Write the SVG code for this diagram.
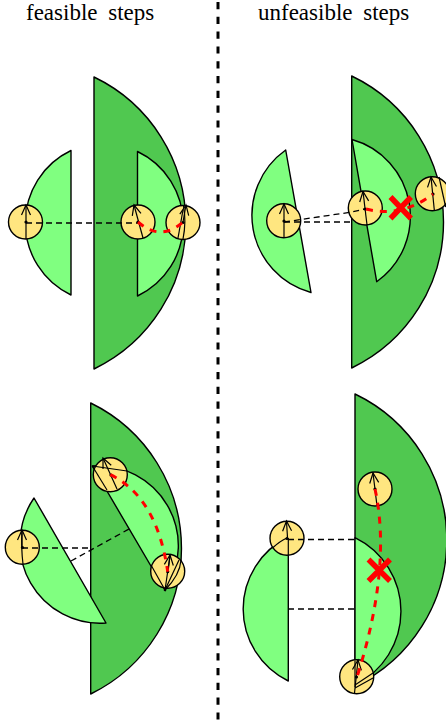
<svg xmlns="http://www.w3.org/2000/svg" width="446" height="726" viewBox="0 0 446 726">
<style>
text{font-family:"Liberation Serif","Times New Roman",serif;font-size:23px;word-spacing:5px;fill:#000}
.big{fill:#50c850;stroke:#000;stroke-width:1.4;stroke-linejoin:round}
.mid{fill:#80ff80;stroke:#000;stroke-width:1.4;stroke-linejoin:round}
.c{fill:#ffe680;stroke:#000;stroke-width:1.4}
.l{fill:none;stroke:#000;stroke-width:1.2}
.a{fill:none;stroke:#000;stroke-width:1.2;marker-end:url(#v)}
.d{fill:#000;stroke:none}
.k{fill:none;stroke:#000;stroke-width:1.3;stroke-dasharray:6 4}
.r{fill:none;stroke:#f00;stroke-width:3;stroke-dasharray:7 7}
.x{fill:none;stroke:#f00;stroke-width:5.500}
</style>
<defs>
<marker id="v" markerUnits="userSpaceOnUse" markerWidth="14" markerHeight="14" refX="11" refY="7" orient="auto">
<path d="M1 2.500L11 7L1 11.500" fill="none" stroke="#000" stroke-width="1.200"/>
</marker>
</defs>
<text x="26" y="20">feasible steps</text>
<text x="258" y="20">unfeasible steps</text>
<path id="divider" d="M218 2V720" fill="none" stroke="#000" stroke-width="3" stroke-dasharray="7.200 7.600"/>

<g id="p1-shapes">
<path class="big" d="M94 77A162 162 0 0 1 94 369Z"/>
<path class="mid" d="M71 150.500A80 80 0 0 0 71 295Z"/>
<path class="mid" d="M137.500 151.500A80 80 0 0 1 137.500 296Z"/>
</g>
<g id="p2-shapes">
<path class="big" d="M351.700 76A162 162 0 0 1 351.700 368Z"/>
<path class="mid" d="M352 139.500A80 80 0 0 1 376.700 281.700Z"/>
<path class="mid" d="M285.700 150A80 80 0 0 0 311 292.500Z"/>
</g>
<g id="p3-shapes">
<path class="big" d="M90.700 403A162 162 0 0 1 90.700 694Z"/>
<path class="mid" d="M34 498A80 80 0 0 0 106 623Z"/>
<path class="mid" d="M92.300 466A80 80 0 0 1 165 590Z"/>
</g>
<g id="p4-shapes">
<path class="big" d="M355 394A162 162 0 0 1 355 686Z"/>
<path class="mid" d="M355 537.700A82 82 0 0 1 355 685Z"/>
<path class="mid" d="M288.300 537A80 80 0 0 0 288.300 681Z"/>
</g>

<g id="p1-robots">
<g id="p1-a"><circle class="c" cx="25.500" cy="222" r="17"/><path class="l" d="M26 239V222"/><path class="a" d="M26 222V205"/><circle class="d" cx="26" cy="222" r="1.600"/></g>
<g id="p1-b"><circle class="c" cx="138" cy="222" r="17"/><path class="a" d="M143 238L134 205"/><circle class="d" cx="138" cy="222" r="1.600"/></g>
<g id="p1-c"><circle class="c" cx="183" cy="222.500" r="17"/><path class="l" d="M183.500 206Q186.500 222 183 239"/><path class="l" d="M178 238L183 210"/><path class="a" d="M183 222L186 205"/><circle class="d" cx="183" cy="222.500" r="1.600"/></g>
</g>
<g id="p2-robots">
<g id="p2-a"><circle class="c" cx="283.700" cy="220.700" r="17"/><path class="a" d="M284 237.500V204"/><circle class="d" cx="284" cy="221" r="1.600"/></g>
<g id="p2-b"><circle class="c" cx="365.300" cy="208" r="17"/><path class="a" d="M367 225L363 191.500"/><circle class="d" cx="365" cy="209" r="1.600"/></g>
<g id="p2-c"><circle class="c" cx="432.300" cy="193.700" r="17"/><path class="l" d="M439 177L445.700 207"/><path class="a" d="M434.300 210L431 177"/><circle class="d" cx="433" cy="194" r="1.600"/></g>
</g>
<g id="p3-robots">
<g id="p3-a"><circle class="c" cx="22.300" cy="547.300" r="17"/><path class="l" d="M22 530Q21 548 23 564"/><path class="a" d="M22 548L22 530"/><circle class="d" cx="22.500" cy="547.500" r="1.600"/></g>
<g id="p3-b"><circle class="c" cx="110.300" cy="474.700" r="17"/><path class="l" d="M92.300 466L127 471"/><path class="l" d="M92.300 466L107 490"/><path class="a" d="M117 489L103 458"/><circle class="d" cx="111" cy="475" r="1.600"/></g>
<g id="p3-c"><circle class="c" cx="167.700" cy="571.300" r="17"/><path class="l" d="M151 565L165 590L170 556"/><path class="l" d="M165 590L179 560"/><path class="l" d="M165 590Q180 575 181 560"/><path class="a" d="M168 572L170 555"/><circle class="d" cx="167.700" cy="571.700" r="1.600"/><circle class="d" cx="165" cy="590" r="1.300"/></g>
</g>
<g id="p4-robots">
<g id="p4-a"><circle class="c" cx="287" cy="538.300" r="17"/><path class="l" d="M288.300 555V538" stroke-width="2"/><path class="l" d="M272.500 548Q280 541 287 538"/><path class="a" d="M287.500 538L286.500 521"/><circle class="d" cx="287" cy="538.500" r="1.600"/></g>
<g id="p4-b"><circle class="c" cx="375" cy="489" r="17"/><path class="a" d="M377 506L373 473"/><circle class="d" cx="375" cy="489" r="1.600"/></g>
<g id="p4-c"><circle class="c" cx="356.700" cy="676.700" r="17"/><path class="l" d="M355 661V687"/><path class="l" d="M355 685L373 673"/><path class="l" d="M355 688L373 678"/><path class="a" d="M354.500 693L358 660"/><circle class="d" cx="356.500" cy="677" r="1.600"/></g>
</g>

<g id="connectors">
<path class="k" d="M26 223H138"/>
<path class="r" d="M138 222Q161 242 183 222"/>
<path class="k" d="M284 222H352"/>
<path class="k" d="M284 222L352 212L365 209"/>
<path class="r" d="M366 209Q402 218 433 194"/>
<path class="x" d="M390.500 197L411 218.500M411 197L390.500 218.500"/>
<path class="k" d="M22 548H91"/>
<path class="k" d="M71 561L129 529"/>
<path class="r" d="M110.300 474.700Q157 497 167.700 571.700"/>
<path class="k" d="M288 539.500H355"/>
<path class="k" d="M288 609H355"/>
<path class="r" d="M375 489Q392 567 357 677"/>
<path class="x" d="M368.500 559.500L390 581M390 559.500L368.500 581"/>
</g>
</svg>
